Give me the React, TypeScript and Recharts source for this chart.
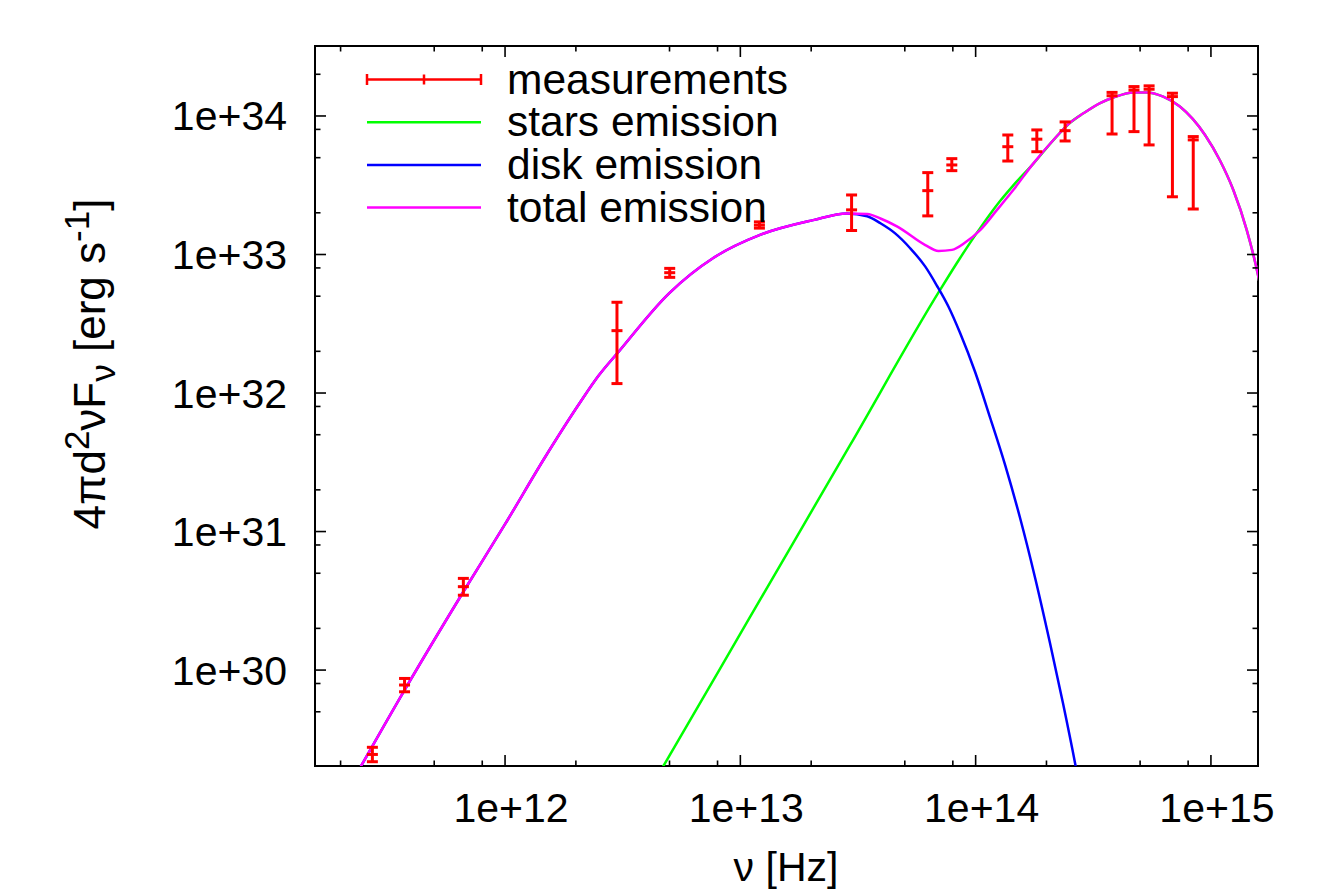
import React from "react";
import { ComposedChart, Line, Scatter, ErrorBar, XAxis, YAxis, ReferenceArea } from "recharts";

const FONT = '"Liberation Sans", Arial, Helvetica, sans-serif';
const W = 1334;
const H = 891;
// axes get 1px of room each, so the plot box spans x 315..1258, y 46..766
const MARGIN = { top: 46, right: 76, bottom: 124, left: 314 };
const PLOT_TOP = 46;
const PLOT_RIGHT = W - MARGIN.right;

const X_DOMAIN: [number, number] = [1.557e11, 1.585e15];
const Y_DOMAIN: [number, number] = [2.03e29, 3.2e34];

// ticks: decades get labels, 2/5/8 get short minor ticks
const xTicks = [
  2e11, 5e11, 8e11, 1e12, 2e12, 5e12, 8e12, 1e13, 2e13, 5e13, 8e13,
  1e14, 2e14, 5e14, 8e14, 1e15,
];
const yTicks = [
  5e29, 8e29, 1e30, 2e30, 5e30, 8e30, 1e31, 2e31, 5e31, 8e31, 1e32,
  2e32, 5e32, 8e32, 1e33, 2e33, 5e33, 8e33, 1e34, 2e34,
];

// measured SED points (nu in Hz, luminosity in erg/s) with lower/upper bounds
const measNu = [
  2.73e11, 3.74e11, 6.65e11, 2.99e12, 5.01e12, 1.205e13, 2.97e13, 6.26e13, 7.92e13,
  1.37e14, 1.82e14, 2.4e14, 3.8e14, 4.71e14, 5.46e14, 6.86e14, 8.41e14,
];
const measL = [
  2.46e29, 7.8e29, 4.0e30, 2.82e32, 7.39e32, 1.63e33, 2.1e33, 2.89e33, 4.43e33,
  6.0e33, 6.8e33, 7.83e33, 1.4e34, 1.54e34, 1.56e34, 1.38e34, 6.72e33,
];
const measLo = [
  2.18e29, 6.97e29, 3.47e30, 1.17e32, 6.84e32, 1.55e33, 1.49e33, 1.9e33, 4.03e33,
  4.73e33, 5.52e33, 6.6e33, 7.41e33, 7.71e33, 6.18e33, 2.61e33, 2.13e33,
];
const measHi = [
  2.77e29, 8.7e29, 4.59e30, 4.52e32, 7.94e32, 1.72e33, 2.69e33, 3.9e33, 4.92e33,
  7.29e33, 7.93e33, 9.06e33, 1.48e34, 1.63e34, 1.65e34, 1.46e34, 7.1e33,
];

// model curves
const totalNu = [
  2.21e11, 3.74e11, 6.64e11, 1.0e12, 1.49e12, 2.09e12, 2.495e12, 3.01e12, 4.99e12, 7.67e12,
  1.205e13, 2.04e13, 2.84e13, 3.46e13, 3.94e13, 4.65e13, 6.11e13, 6.95e13, 7.93e13,
  9.02e13, 1.045e14, 1.23e14, 1.445e14, 1.76e14, 2.14e14, 2.52e14, 2.87e14, 3.38e14,
  3.85e14, 4.68e14, 5.33e14, 6.27e14, 7.38e14, 9.44e14, 1.09e15, 1.245e15, 1.42e15,
  1.585e15, 1.69e15,
];
const totalL = [
  1.5e29, 7.17e29, 3.66e30, 1.13e31, 3.51e31, 8.61e31, 1.33e32, 1.95e32, 5.27e32, 9.44e32,
  1.38e33, 1.77e33, 1.98e33, 1.96e33, 1.82e33, 1.59e33, 1.17e33, 1.06e33, 1.08e33,
  1.22e33, 1.5e33, 2.09e33, 2.92e33, 4.55e33, 6.71e33, 8.95e33, 1.045e34, 1.24e34,
  1.36e34, 1.48e34, 1.48e34, 1.38e34, 1.17e34, 7.29e33, 4.81e33, 2.92e33, 1.5e33,
  7.11e32, 3.97e32,
];

const diskNu = [
  2.21e11, 3.74e11, 6.64e11, 1.0e12, 1.49e12, 2.09e12, 2.495e12, 3.01e12, 4.99e12, 7.67e12,
  1.205e13, 2.04e13, 2.84e13, 3.46e13, 3.94e13, 4.55e13, 5.27e13, 6.11e13, 6.84e13,
  7.66e13, 8.59e13, 9.95e13, 1.15e14, 1.335e14, 1.545e14, 1.79e14, 2.07e14, 2.35e14,
  2.65e14, 2.92e14,
];
const diskL = [
  1.5e29, 7.17e29, 3.66e30, 1.13e31, 3.51e31, 8.61e31, 1.33e32, 1.95e32, 5.27e32, 9.44e32,
  1.38e33, 1.77e33, 1.98e33, 1.89e33, 1.68e33, 1.42e33, 1.11e33, 8.17e32, 5.97e32,
  4.21e32, 2.71e32, 1.418e32, 6.71e31, 3.02e31, 1.252e31, 4.62e30, 1.566e30, 5.78e29,
  2.1e29, 8.54e28,
];

const starsNu = [
  3.76e12, 4.71e12, 1.1e13, 2.93e13, 7.06e13, 8.59e13, 1.045e14, 1.27e14, 1.44e14,
  1.76e14, 2.14e14, 2.52e14, 2.87e14, 3.38e14, 3.85e14, 4.68e14, 5.33e14, 6.27e14,
  7.38e14, 9.44e14, 1.09e15, 1.245e15, 1.42e15, 1.585e15, 1.69e15,
];
const starsL = [
  1.06e29, 2.03e29, 2.42e30, 4.22e31, 5.55e32, 9.44e32, 1.55e33, 2.43e33, 3.13e33,
  4.53e33, 6.7e33, 8.94e33, 1.045e34, 1.24e34, 1.36e34, 1.48e34, 1.48e34, 1.38e34,
  1.17e34, 7.29e33, 4.81e33, 2.92e33, 1.5e33, 7.11e32, 3.97e32,
];

const pairs = (nu: number[], L: number[]) => nu.map((n, i) => ({ nu: n, L: L[i] }));
const totalData = pairs(totalNu, totalL);
const diskData = pairs(diskNu, diskL);
const starsData = pairs(starsNu, starsL);
const measData = measNu.map((n, i) => ({
  nu: n,
  L: measL[i],
  err: [measL[i] - measLo[i], measHi[i] - measL[i]],
}));

const isMajor = (v: number) => Math.abs(Math.log10(v) - Math.round(Math.log10(v))) < 1e-6;
const expLabel = (v: number) => `1e+${Math.round(Math.log10(v))}`;

const MAJOR = 11;
const MINOR = 5.5;

// bottom ticks also mirror onto the top edge, gnuplot style
function BottomTick(props: any) {
  const { x, y, payload } = props;
  const v = payload.value;
  const len = isMajor(v) ? MAJOR : MINOR;
  return (
    <g>
      <line x1={x} x2={x} y1={y} y2={y - len} stroke="#000" strokeWidth={1.6} />
      <line x1={x} x2={x} y1={PLOT_TOP} y2={PLOT_TOP + len} stroke="#000" strokeWidth={1.6} />
      {isMajor(v) && (
        <text x={x + 6} y={y + 56} textAnchor="middle" fontSize={41} fontFamily={FONT} fill="#000">
          {expLabel(v)}
        </text>
      )}
    </g>
  );
}

function LeftTick(props: any) {
  const { x, y, payload } = props;
  const v = payload.value;
  const len = isMajor(v) ? MAJOR : MINOR;
  return (
    <g>
      <line x1={x} x2={x + len} y1={y} y2={y} stroke="#000" strokeWidth={1.6} />
      <line x1={PLOT_RIGHT} x2={PLOT_RIGHT - len} y1={y} y2={y} stroke="#000" strokeWidth={1.6} />
      {isMajor(v) && (
        <text x={x - 28} y={y + 14.5} textAnchor="end" fontSize={41} fontFamily={FONT} fill="#000">
          {expLabel(v)}
        </text>
      )}
    </g>
  );
}

const ErrMark = (props: any) => {
  const { cx, cy } = props;
  return <line x1={cx - 5.5} x2={cx + 5.5} y1={cy} y2={cy} stroke="#ff0000" strokeWidth={3} />;
};

const legendRows = [
  { label: "measurements", color: "#ff0000", bars: true },
  { label: "stars emission", color: "#00ff00", bars: false },
  { label: "disk emission", color: "#0000ff", bars: false },
  { label: "total emission", color: "#ff00ff", bars: false },
];

export default function App() {
  return (
    <div style={{ position: "absolute", left: 0, top: 0, width: W, height: H, background: "#fff" }}>
      <ComposedChart width={W} height={H} margin={MARGIN}>
        <XAxis
          type="number"
          dataKey="nu"
          scale="log"
          domain={X_DOMAIN}
          allowDataOverflow
          ticks={xTicks}
          interval={0}
          tick={<BottomTick />}
          tickLine={false}
          tickSize={0}
          tickMargin={0}
          height={1}
          axisLine={false}
        />
        <YAxis
          type="number"
          dataKey="L"
          scale="log"
          domain={Y_DOMAIN}
          allowDataOverflow
          ticks={yTicks}
          interval={0}
          tick={<LeftTick />}
          tickLine={false}
          tickSize={0}
          tickMargin={0}
          width={1}
          axisLine={false}
        />
        <ReferenceArea
          x1={X_DOMAIN[0]}
          x2={X_DOMAIN[1]}
          y1={Y_DOMAIN[0]}
          y2={Y_DOMAIN[1]}
          fill="none"
          stroke="#000"
          strokeWidth={2}
          ifOverflow="visible"
        />
        <Line data={starsData} dataKey="L" type="monotone" stroke="#00ff00" strokeWidth={2.5} dot={false} isAnimationActive={false} />
        <Line data={diskData} dataKey="L" type="monotone" stroke="#0000ff" strokeWidth={2.5} dot={false} isAnimationActive={false} />
        <Line data={totalData} dataKey="L" type="monotone" stroke="#ff00ff" strokeWidth={2.5} dot={false} isAnimationActive={false} />
        <Scatter data={measData} dataKey="L" shape={<ErrMark />} isAnimationActive={false}>
          <ErrorBar dataKey="err" direction="y" width={5.5} stroke="#ff0000" strokeWidth={3} />
        </Scatter>
      </ComposedChart>

      <svg width={W} height={H} style={{ position: "absolute", left: 0, top: 0, pointerEvents: "none" }}>
        {legendRows.map((r, i) => {
          const y = 79.5 + i * 42.7;
          return (
            <g key={r.label}>
              <line x1={367} x2={481} y1={y} y2={y} stroke={r.color} strokeWidth={2.5} />
              {r.bars && (
                <>
                  <line x1={367} x2={367} y1={y - 5.5} y2={y + 5.5} stroke={r.color} strokeWidth={2.5} />
                  <line x1={481} x2={481} y1={y - 5.5} y2={y + 5.5} stroke={r.color} strokeWidth={2.5} />
                  <line x1={424} x2={424} y1={y - 5} y2={y + 5} stroke={r.color} strokeWidth={2.5} />
                </>
              )}
              <text x={507} y={y + 14} fontSize={42.5} fontFamily={FONT} fill="#000">
                {r.label}
              </text>
            </g>
          );
        })}

        <text x={786} y={881} textAnchor="middle" fontSize={41} fontFamily={FONT} fill="#000">
          ν [Hz]
        </text>

        <text transform="translate(105 364) rotate(-90)" textAnchor="middle" fontSize={44} fontFamily={FONT} fill="#000">
          4πd
          <tspan dy={-16} fontSize={35}>2</tspan>
          <tspan dy={16}>νF</tspan>
          <tspan dy={10} fontSize={35}>ν</tspan>
          <tspan dy={-10}> [erg s</tspan>
          <tspan dy={-16} fontSize={35}>-1</tspan>
          <tspan dy={16}>]</tspan>
        </text>
      </svg>
    </div>
  );
}
